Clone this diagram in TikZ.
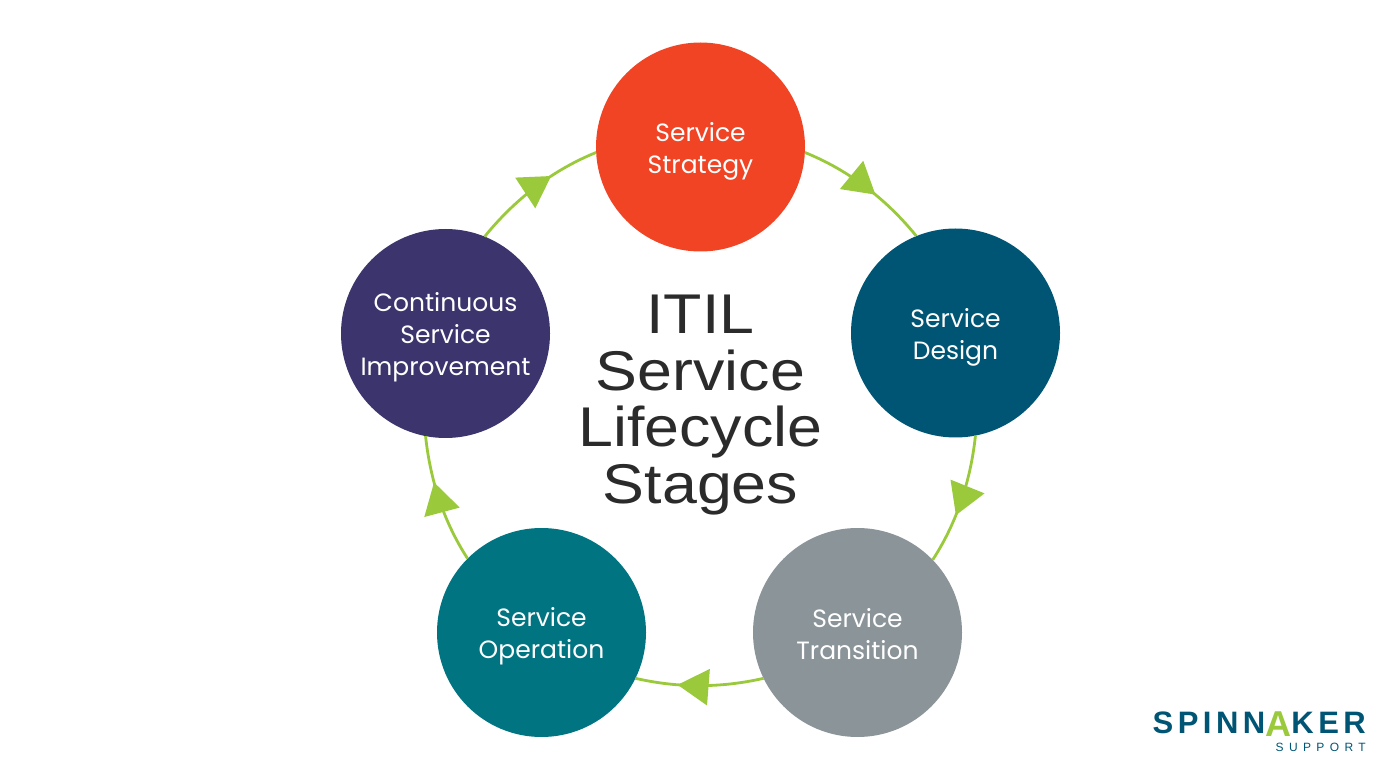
\documentclass[tikz,border=0pt]{standalone}
\usepackage{fontspec}
\usepackage{xcolor}
\usetikzlibrary{arrows.meta}
\usetikzlibrary{decorations.markings}
\newfontfamily\stagefont{Poppins}
\newfontfamily\titlefont[FakeStretch=1.12]{Liberation Sans}
\newfontfamily\logofont[LetterSpace=14.5]{Liberation Sans}
\newfontfamily\supportfont[LetterSpace=45]{Liberation Sans}
\definecolor{strategyred}{HTML}{F04425}
\definecolor{designblue}{HTML}{005574}
\definecolor{transgrey}{HTML}{8A9499}
\definecolor{operteal}{HTML}{007481}
\definecolor{improvepurple}{HTML}{3B346D}
\definecolor{ringgreen}{HTML}{9ACA3C}
\definecolor{titleink}{HTML}{2B2B2B}
\newcommand{\stagetop}{\rule{0pt}{27pt}}
\newcommand{\stagebot}{\rule[-6pt]{0pt}{0pt}}
\tikzset{
	stage/.style={circle, minimum size=209pt, inner sep=0pt, outer sep=0pt, align=center, text=white, font=\stagefont\fontsize{25}{32}\selectfont},
	ringlink/.style={ringgreen, line width=2.8pt, looseness=0.87, postaction={decorate}, decoration={markings, mark=at position #1 with {\arrow{Triangle[length=31pt, width=36pt]}}}}
}

\begin{document}
\begin{tikzpicture}[x=1pt, y=1pt]
	\useasboundingbox (0, 0) rectangle (1400, 780);
	\node[stage, fill=strategyred] (strategy) at (700.5, 633) {\stagetop Service\\Strategy\stagebot};
	\node[stage, fill=designblue] (design) at (955.5, 447) {\stagetop Service\\Design\stagebot};
	\node[stage, fill=transgrey] (transition) at (857.5, 147.5) {\stagetop Service\\Transition\stagebot};
	\node[stage, fill=operteal] (operation) at (541.5, 147.5) {\stagetop Service\\Operation\stagebot};
	\node[stage, fill=improvepurple] (improvement) at (445.5, 446.5) {\stagetop Continuous\\Service\\Improvement\stagebot};
	\draw[ringlink=0.586] (strategy.-3) to[out=-22, in=129] (design.112);
	\draw[ringlink=0.62] (design.-79) to[out=-96, in=57] (transition.44);
	\draw[ringlink=0.67] (transition.206) to[out=193, in=-13] (operation.-26);
	\draw[ringlink=0.64] (operation.135) to[out=123, in=-84] (improvement.-101);
	\draw[ringlink=0.64] (improvement.68) to[out=51, in=202] (strategy.183);
	\node[align=center, text=titleink, font=\titlefont\fontsize{56}{56.5}\selectfont] (title) at (700.5, 375) {ITIL\\Service\\Lifecycle\\Stages};
	\node[anchor=base east, inner sep=0pt, text=designblue, font=\logofont\bfseries\fontsize{31}{31}\selectfont] (logoname) at (1366, 46.5) {SPINN\textcolor{ringgreen}{\raisebox{-3pt}{\fontsize{36}{36}\selectfont A}}KER};
	\node[anchor=base east, inner sep=0pt, text=designblue, font=\supportfont\fontsize{12}{12}\selectfont] (logosub) at (1366, 28.5) {SUPPORT};
\end{tikzpicture}
\end{document}
